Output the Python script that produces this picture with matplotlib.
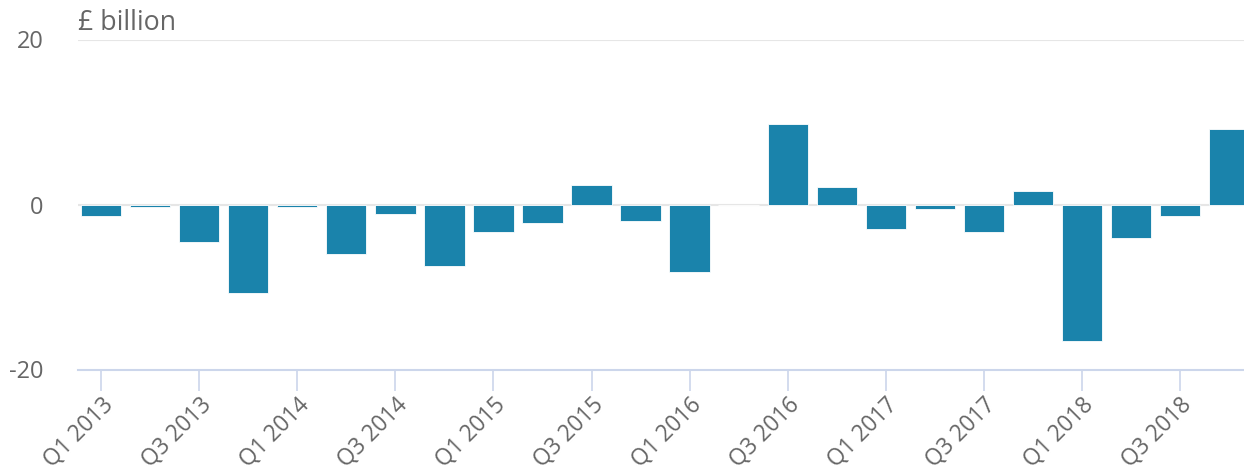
import numpy as np
import matplotlib
matplotlib.use('Agg')
import matplotlib.pyplot as plt

# quarterly values, Q1 2013 .. Q4 2018 (£ billion)
QUARTERS = [f'Q{q} {y}' for y in range(2013, 2019) for q in range(1, 5)]
VALUES = [-1.4, -0.3, -4.6, -10.7, -0.3, -6.0, -1.1, -7.4,
          -3.3, -2.2, 2.4, -2.0, -8.2, 0.0, 9.7, 2.1,
          -3.0, -0.6, -3.3, 1.6, -16.6, -4.1, -1.4, 9.1]
Y_TICKS = [-20, 0, 20]

BAR_COLOR = '#1a83ab'
TEXT_COLOR = '#666666'
GRID_COLOR = '#e6e6e6'
AXIS_COLOR = '#ccd6eb'

plt.rcParams['font.family'] = ['Open Sans', 'DejaVu Sans']

fig = plt.figure(figsize=(12.44, 4.71), dpi=100)
ax = fig.add_axes([78 / 1244, 1 - 369.5 / 471, 1 - 78 / 1244, 330 / 471])

x = np.arange(len(VALUES))
ax.bar(x, VALUES, width=0.82, color=BAR_COLOR, edgecolor='white',
       linewidth=0.6, zorder=3)

ax.set_xlim(-0.475, 23.31)
ax.set_ylim(-20, 20)

# gridlines at 0 and 20, axis line at -20
for yv in Y_TICKS[1:]:
    ax.axhline(yv, color=GRID_COLOR, linewidth=1.5, zorder=1)

for side in ['top', 'right', 'left']:
    ax.spines[side].set_visible(False)
ax.spines['bottom'].set_color(AXIS_COLOR)
ax.spines['bottom'].set_linewidth(1.5)

ax.set_yticks(Y_TICKS)
ax.set_yticklabels([str(v) for v in Y_TICKS])
ax.tick_params(axis='y', length=0, pad=25, labelsize=17, labelcolor=TEXT_COLOR)

ax.set_xticks(x[::2])
ax.set_xticklabels(QUARTERS[::2], rotation=45, ha='right',
                   rotation_mode='anchor')
ax.tick_params(axis='x', length=15, width=1.2, color=AXIS_COLOR, pad=2,
               labelsize=16.3, labelcolor=TEXT_COLOR)

fig.text(78 / 1244, 1 - 23 / 471, '£ billion', fontsize=19.3,
         color=TEXT_COLOR, va='center', ha='left')

fig.savefig('out.png', dpi=100)
